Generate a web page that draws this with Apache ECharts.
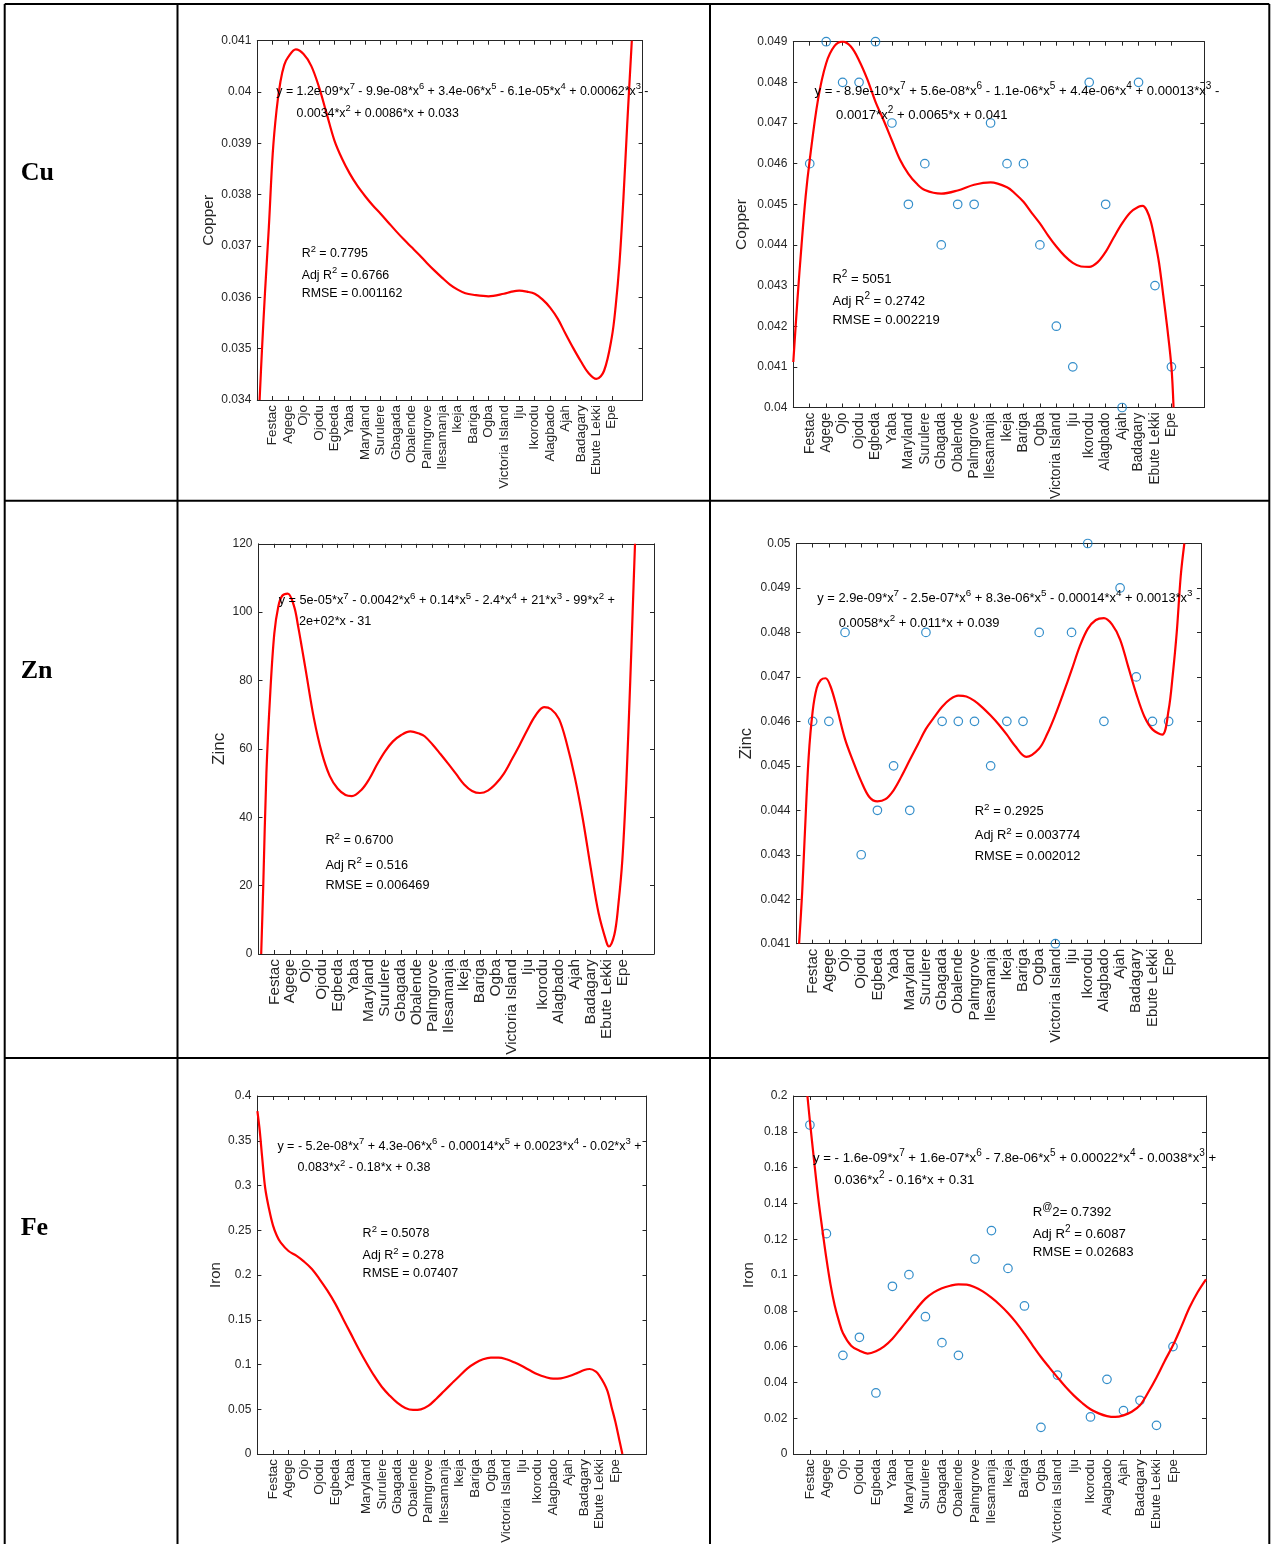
<!DOCTYPE html>
<html><head><meta charset="utf-8">
<script src="https://cdn.jsdelivr.net/npm/echarts@6/dist/echarts.min.js"></script>
<style>html,body{margin:0;padding:0;background:#fff}#c{width:1271px;height:1544px}</style>
</head><body><div id="c"></div>
<script>
// ---------- DATA ----------
const locations = ['Festac','Agege','Ojo','Ojodu','Egbeda','Yaba','Maryland','Surulere','Gbagada','Obalende','Palmgrove','Ilesamanja','Ikeja','Bariga','Ogba','Victoria Island','Iju','Ikorodu','Alagbado','Ajah','Badagary','Ebute Lekki','Epe'];
const tickPositions = [1,2,3,4,5,6,7,8,9,10,11,12,13,14,15,16,17,18,19,20,21,22,23];

// fitted curves: [x position, value]
const cuFitLeft = [[0.15,0.034],[0.3,0.03496],[0.5,0.0361],[0.75,0.03737],[1,0.0388],[1.25,0.03965],[1.5,0.0402],[1.75,0.04053],[2,0.04068],[2.5,0.04083],[3,0.04074],[3.5,0.04051],[4,0.0401],[4.5,0.03958],[5,0.03906],[5.5,0.0387],[6,0.03841],[6.5,0.03817],[7,0.03797],[7.5,0.03779],[8,0.03763],[8.5,0.03746],[9,0.03729],[9.5,0.03713],[10,0.03698],[10.5,0.03683],[11,0.03667],[11.5,0.03652],[12,0.03638],[12.5,0.03625],[13,0.03615],[13.5,0.03608],[14,0.03605],[15,0.03602],[16,0.03607],[16.5,0.03611],[17,0.03613],[17.5,0.03611],[18,0.03607],[18.5,0.03596],[19,0.0358],[19.5,0.03558],[20,0.03529],[20.5,0.03501],[21,0.03475],[21.5,0.03452],[22,0.03441],[22.5,0.03457],[23,0.03522],[23.25,0.03582],[23.5,0.03667],[23.75,0.0379],[24,0.03936],[24.3,0.041]];
const cuObserved = [0.046,0.049,0.048,0.048,0.049,0.047,0.045,0.046,0.044,0.045,0.045,0.047,0.046,0.046,0.044,0.042,0.041,0.048,0.045,0.040,0.048,0.043,0.041];
const cuFitRight = [[0,0.04112],[0.25,0.04264],[0.5,0.04399],[0.75,0.04519],[1,0.04609],[1.5,0.04757],[2,0.04847],[2.5,0.04889],[3,0.049],[3.5,0.04888],[4,0.04854],[4.5,0.04808],[5,0.04752],[5.5,0.04706],[6,0.04657],[6.5,0.04609],[7,0.04575],[7.5,0.04551],[8,0.04535],[9,0.04526],[10,0.04534],[11,0.04548],[12,0.04554],[13,0.04542],[13.5,0.04526],[14,0.04506],[14.5,0.04479],[15,0.04453],[15.5,0.04423],[16,0.04396],[16.5,0.04373],[17,0.04356],[17.5,0.04347],[18,0.04346],[18.5,0.04357],[19,0.04383],[19.5,0.04419],[20,0.04453],[20.5,0.0448],[21,0.04494],[21.25,0.04496],[21.5,0.04485],[21.75,0.04457],[22,0.0441],[22.25,0.04355],[22.5,0.04277],[22.75,0.04195],[23,0.041],[23.13,0.040]];

const znFitLeft = [[0.17,0],[0.3,19.9],[0.5,53],[0.75,76.9],[1,93.8],[1.25,101.6],[1.5,104.8],[1.85,105.4],[2.25,101.7],[2.5,96],[2.75,89.4],[3,82.6],[3.5,69],[4,58.9],[4.5,52.1],[5,48.4],[5.5,46.5],[5.9,46.2],[6.5,48],[7,51.2],[7.5,55.5],[8,59.3],[8.5,62.2],[9,64],[9.6,65.1],[10.2,64.4],[10.5,63.7],[11,61.3],[11.5,58.5],[12,55.6],[12.5,52.6],[13,49.6],[13.5,47.7],[14,47.1],[14.5,47.8],[15,49.8],[15.5,52.7],[16,56.8],[16.5,61.1],[17,65.6],[17.5,69.7],[18.05,72.2],[18.5,71.6],[19,68.7],[19.5,61.3],[20,51.6],[20.5,39.5],[21,25.2],[21.5,11.9],[22,3.4],[22.15,2.2],[22.5,5.8],[22.75,14.6],[23,27.6],[23.25,50],[23.5,80],[23.65,100],[23.8,120]];
const znObserved = [0.046,0.046,0.048,0.043,0.044,0.045,0.044,0.048,0.046,0.046,0.046,0.045,0.046,0.046,0.048,0.041,0.048,0.050,0.046,0.049,0.047,0.046,0.046];
const znFitRight = [[0.16,0.041],[0.35,0.04215],[0.5,0.04335],[0.75,0.04519],[1,0.04623],[1.25,0.04675],[1.5,0.04693],[1.8,0.04697],[2.1,0.04679],[2.5,0.0463],[3,0.0456],[3.5,0.0451],[4,0.04465],[4.5,0.0443],[5,0.0442],[5.5,0.04425],[6,0.04445],[6.5,0.04477],[7,0.04513],[7.5,0.04548],[8,0.04583],[8.5,0.04609],[9,0.04633],[9.5,0.0465],[10,0.04658],[10.5,0.04656],[11,0.04646],[11.5,0.04631],[12,0.04613],[12.5,0.04593],[13,0.0457],[13.5,0.04545],[14.2,0.0452],[15,0.04539],[15.5,0.04572],[16,0.04615],[16.5,0.04664],[17,0.04715],[17.5,0.04768],[18,0.04808],[18.5,0.04828],[19,0.04832],[19.5,0.04818],[20,0.04784],[20.5,0.04723],[21,0.04662],[21.5,0.04611],[22,0.04582],[22.6,0.0457],[23,0.04626],[23.25,0.04703],[23.5,0.048],[23.75,0.04928],[23.97,0.05]];

const feFitLeft = [[0,0.383],[0.15,0.3613],[0.3,0.3326],[0.5,0.2972],[0.75,0.2737],[1,0.2555],[1.25,0.2439],[1.5,0.2361],[2,0.2268],[2.5,0.2216],[3,0.2149],[3.5,0.2067],[4,0.1952],[4.5,0.1825],[5,0.168],[5.5,0.1512],[6,0.1345],[6.5,0.1177],[7,0.102],[7.5,0.0875],[8,0.0749],[8.5,0.0652],[9,0.057],[9.5,0.0514],[10,0.0492],[10.5,0.0499],[11,0.054],[11.5,0.0618],[12,0.0704],[12.5,0.079],[13,0.0875],[13.5,0.0957],[14,0.1017],[14.5,0.1058],[15,0.1076],[15.5,0.1076],[16,0.1058],[16.5,0.1024],[17,0.0983],[17.5,0.0935],[18,0.089],[18.5,0.086],[19,0.0842],[19.5,0.0845],[20,0.0868],[20.5,0.0901],[21,0.0939],[21.35,0.095],[21.75,0.092],[22,0.0868],[22.25,0.0797],[22.5,0.07],[22.75,0.0529],[23,0.036],[23.25,0.016],[23.45,0]];
const feObserved = [0.1838,0.1231,0.0551,0.0652,0.0341,0.0937,0.1002,0.0767,0.0622,0.0551,0.1089,0.1248,0.1037,0.0827,0.0149,0.0441,null,0.0207,0.0417,0.0242,0.03,0.016,0.06];
const feFitRight = [[0.85,0.2],[1,0.186],[1.25,0.1642],[1.5,0.1434],[1.75,0.1257],[2,0.1091],[2.25,0.0946],[2.5,0.0831],[2.75,0.0745],[3,0.0676],[3.5,0.0605],[4,0.0577],[4.5,0.0561],[5,0.0574],[5.5,0.0601],[6,0.0644],[6.5,0.07],[7,0.0758],[7.5,0.0816],[8,0.0868],[8.5,0.0903],[9,0.0926],[9.5,0.094],[10,0.0948],[10.5,0.0946],[11,0.0931],[11.5,0.0907],[12,0.0873],[12.5,0.0834],[13,0.0788],[13.5,0.0734],[14,0.0672],[14.5,0.0606],[15,0.0542],[15.5,0.0484],[16,0.0428],[16.5,0.0374],[17,0.0326],[17.5,0.0285],[18,0.025],[18.5,0.0227],[19,0.0212],[19.5,0.0207],[20,0.0216],[20.5,0.0236],[21,0.0272],[21.5,0.0345],[22,0.0428],[22.5,0.052],[23,0.0607],[23.5,0.071],[24,0.0818],[24.5,0.0905],[25,0.0976]];

const rowLabels = ['Cu','Zn','Fe'];

// annotation texts per panel
const panelTexts = [
  ['y = 1.2e-09*x{s|7} - 9.9e-08*x{s|6} + 3.4e-06*x{s|5} - 6.1e-05*x{s|4} + 0.00062*x{s|3} -','0.0034*x{s|2} + 0.0086*x + 0.033','R{s|2} = 0.7795','Adj R{s|2} = 0.6766','RMSE = 0.001162'],
  ['y = - 8.9e-10*x{s|7} + 5.6e-08*x{s|6} - 1.1e-06*x{s|5} + 4.4e-06*x{s|4} + 0.00013*x{s|3} -','0.0017*x{s|2} + 0.0065*x + 0.041','R{s|2} = 5051','Adj R{s|2} = 0.2742','RMSE = 0.002219'],
  ['y = 5e-05*x{s|7} - 0.0042*x{s|6} + 0.14*x{s|5} - 2.4*x{s|4} + 21*x{s|3} - 99*x{s|2} +','2e+02*x - 31','R{s|2} = 0.6700','Adj R{s|2} = 0.516','RMSE = 0.006469'],
  ['y = 2.9e-09*x{s|7} - 2.5e-07*x{s|6} + 8.3e-06*x{s|5} - 0.00014*x{s|4} + 0.0013*x{s|3} -','0.0058*x{s|2} + 0.011*x + 0.039','R{s|2} = 0.2925','Adj R{s|2} = 0.003774','RMSE = 0.002012'],
  ['y = - 5.2e-08*x{s|7} + 4.3e-06*x{s|6} - 0.00014*x{s|5} + 0.0023*x{s|4} - 0.02*x{s|3} +','0.083*x{s|2} - 0.18*x + 0.38','R{s|2} = 0.5078','Adj R{s|2} = 0.278','RMSE = 0.07407'],
  ['y = - 1.6e-09*x{s|7} + 1.6e-07*x{s|6} - 7.8e-06*x{s|5} + 0.00022*x{s|4} - 0.0038*x{s|3} +','0.036*x{s|2} - 0.16*x + 0.31','R{s|@}2= 0.7392','Adj R{s|2} = 0.6087','RMSE = 0.02683']
];

// ---------- LAYOUT ----------
const panels = [
  {grid:[257.3,40.7,385.3,359.3], yMin:0.034, yMax:0.041, yStep:0.001, yName:'Copper', nameSize:15.5, nameGap:40.5, catSize:13.4, fit:cuFitLeft, obs:null,
   fs:12.4, pos:[[276.3,91.7],[296.6,113.3],[301.7,254],[301.7,275.3],[301.7,293.3]]},
  {grid:[793.3,41.7,411,365.8], yMin:0.040, yMax:0.049, yStep:0.001, yName:'Copper', nameSize:15.5, nameGap:44, catSize:13.8, fit:cuFitRight, obs:cuObserved,
   fs:13.1, pos:[[814.5,91.7],[836,115],[832.4,279.3],[832.4,301.7],[832.4,320.7]]},
  {grid:[258.5,543.8,395.5,410.2], yMin:0, yMax:120, yStep:20, yName:'Zinc', nameSize:17, nameGap:31, catSize:15.3, fit:znFitLeft, obs:null,
   fs:12.7, pos:[[278.7,600.7],[299,621.4],[325.4,840.4],[325.4,865],[325.4,885.7]]},
  {grid:[796.5,543.5,404.5,400.2], yMin:0.041, yMax:0.05, yStep:0.001, yName:'Zinc', nameSize:16.6, nameGap:41.3, catSize:15, fit:znFitRight, obs:znObserved,
   fs:12.9, pos:[[817.3,598.2],[838.8,623.2],[974.8,811.8],[974.8,835.7],[974.8,856]]},
  {grid:[257.4,1096,389.1,358], yMin:0, yMax:0.4, yStep:0.05, yName:'Iron', nameSize:15, nameGap:34.4, catSize:13.4, fit:feFitLeft, obs:null,
   fs:12.5, pos:[[277.4,1146.3],[297.6,1168],[362.6,1233.7],[362.6,1255.7],[362.6,1273.7]]},
  {grid:[793.4,1096,412.6,358], yMin:0, yMax:0.2, yStep:0.02, yName:'Iron', nameSize:15, nameGap:37, catSize:13.4, fit:feFitRight, obs:feObserved,
   fs:13.2, pos:[[813,1158],[834.2,1180.3],[1032.7,1212.3],[1032.7,1234.7],[1032.7,1252.3]]}
];
const rowLabelPos = [[20.7,173.5],[20.7,671],[20.7,1228]];

const FONT = '"Liberation Sans", Arial, Helvetica, sans-serif';
const AXIS_COLOR = '#262626';
const fmt = v => String(parseFloat(Number(v).toFixed(6)));

const grids = [], xAxes = [], yAxes = [], series = [], graphics = [];

panels.forEach((p, i) => {
  grids.push({left:p.grid[0], top:p.grid[1], width:p.grid[2], height:p.grid[3], containLabel:false, outerBoundsMode:'none', show:false});
  const ls = {color:AXIS_COLOR, width:1};
  const baseX = {gridIndex:i, type:'value', min:0, max:25, splitLine:{show:false},
    axisLine:{show:true, onZero:false, lineStyle:ls},
    axisTick:{show:true, inside:true, length:4, customValues:tickPositions, lineStyle:ls}};
  xAxes.push(Object.assign({}, baseX, {position:'bottom',
    axisLabel:{show:true, customValues:tickPositions, rotate:90, margin:5, fontSize:p.catSize, fontFamily:FONT, color:AXIS_COLOR,
      formatter: v => locations[Math.round(v) - 1] || ''}}));
  xAxes.push(Object.assign({}, baseX, {position:'top', axisLabel:{show:false}}));
  const baseY = {gridIndex:i, type:'value', min:p.yMin, max:p.yMax, interval:p.yStep, splitLine:{show:false},
    axisLine:{show:true, onZero:false, lineStyle:ls},
    axisTick:{show:true, inside:true, length:4, lineStyle:ls}};
  yAxes.push(Object.assign({}, baseY, {position:'left', name:p.yName, nameLocation:'middle', nameGap:p.nameGap,
    nameTextStyle:{fontSize:p.nameSize, fontFamily:FONT, color:AXIS_COLOR},
    axisLabel:{show:true, margin:6, fontSize:12, fontFamily:FONT, color:AXIS_COLOR, formatter:fmt}}));
  yAxes.push(Object.assign({}, baseY, {position:'right', axisLabel:{show:false}}));

  if (p.obs) {
    series.push({type:'scatter', xAxisIndex:2*i, yAxisIndex:2*i, silent:true, clip:false, z:2,
      data: p.obs.map((v,k) => v == null ? null : [tickPositions[k], v]).filter(d => d),
      symbol:'circle', symbolSize:8.5,
      itemStyle:{color:'rgba(0,0,0,0)', borderColor:'#0072BD', borderWidth:1.2}});
  }
  series.push({type:'line', xAxisIndex:2*i, yAxisIndex:2*i, silent:true, clip:true, z:3,
    data:p.fit, smooth:0.35, showSymbol:false, symbol:'none',
    lineStyle:{color:'#ff0000', width:2.2}});

  panelTexts[i].forEach((t, k) => {
    const fs = p.fs;
    graphics.push({type:'text', x:p.pos[k][0], y:p.pos[k][1], z:60, silent:true,
      style:{text:t, fill:'#000', fontSize:fs, fontFamily:FONT, align:'left', verticalAlign:'middle',
        lineHeight:Math.round(fs*1.5),
        rich:{s:{fontSize:Math.round(fs*0.76*10)/10, fontFamily:FONT, fill:'#000', verticalAlign:'top', lineHeight:Math.round(fs*0.9)}}}});
  });
});

rowLabels.forEach((t, r) => {
  graphics.push({type:'text', x:rowLabelPos[r][0], y:rowLabelPos[r][1], z:60, silent:true,
    style:{text:t, fill:'#000', fontSize:26, fontWeight:'bold', fontFamily:'"Liberation Serif", "Times New Roman", serif', align:'left', verticalAlign:'middle'}});
});

// table borders
const H = 1544;
const tableLines = [
  [4.7,4,1269.3,4],[4.7,500.7,1269.3,500.7],[4.7,1058,1269.3,1058],
  [4.7,4,4.7,H],[177.5,4,177.5,H],[710,4,710,H],[1269.3,4,1269.3,H]
];
tableLines.forEach(l => graphics.push({type:'line', z:100, silent:true,
  shape:{x1:l[0], y1:l[1], x2:l[2], y2:l[3]}, style:{stroke:'#000', lineWidth:2}}));

const chart = echarts.init(document.getElementById('c'), null, {renderer:'canvas', width:1271, height:1544});
chart.setOption({
  animation:false,
  backgroundColor:'#fff',
  grid:grids, xAxis:xAxes, yAxis:yAxes, series:series, graphic:graphics
});
</script>
</body></html>
